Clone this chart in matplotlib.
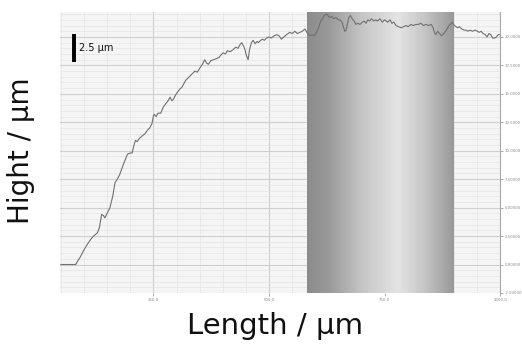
import numpy as np
import matplotlib

matplotlib.use("Agg")

import matplotlib.pyplot as plt
from matplotlib.ticker import MultipleLocator, FixedLocator
from matplotlib.colors import LinearSegmentedColormap

# Profile trace (length in um, height in um).
length = [
    50, 82, 86, 91, 100, 109, 118, 129, 133, 138, 142, 145, 150, 156, 162, 167,
    172, 177, 185, 194, 200, 204, 208, 211, 215, 220, 226, 232, 237, 242, 247,
    250, 252, 256, 260, 266, 271, 276, 282, 286, 290, 293, 298, 303, 307, 312,
    316, 320, 325, 330, 335, 340, 345, 351, 356, 361, 365, 369, 374, 380, 387,
    392, 396, 401, 406, 410, 416, 423, 428, 433, 437, 441, 445, 448, 451, 455,
    458, 462, 466, 470, 474, 477, 482, 486, 490, 495, 500, 505, 511, 517, 522,
    527, 532, 538, 545, 550, 556, 561, 567, 572, 578, 582, 586, 589, 594, 598,
    603, 608, 612, 616, 620, 625, 629, 632, 636, 640, 645, 650, 654, 658, 661,
    664, 667, 670, 673, 676, 680, 684, 688, 692, 697, 702, 706, 710, 714, 718,
    722, 727, 731, 735, 740, 745, 750, 754, 757, 762, 766, 770, 775, 780, 786,
    791, 796, 801, 807, 812, 818, 823, 829, 834, 840, 845, 851, 855, 858, 861,
    865, 869, 873, 876, 880, 884, 888, 892, 897, 901, 905, 908, 912, 917, 922,
    927, 930, 935, 940, 946, 951, 955, 959, 963, 968, 972, 976, 980, 984, 988,
    992, 996, 1000,
]
height = [
    0.0, 0.0, 0.3, 0.6, 1.3, 1.9, 2.4, 2.8, 3.2, 4.4, 4.3, 4.1, 4.5, 5.0, 6.0, 7.2,
    7.5, 7.9, 8.8, 9.7, 9.8, 9.8, 10.5, 10.9, 10.8, 11.1, 11.3, 11.5, 11.8, 12.0, 12.4,
    13.05, 13.2, 13.0, 13.3, 13.3, 13.8, 14.1, 14.4, 14.7, 14.4, 14.5, 14.9, 15.2, 15.4, 15.6,
    15.9, 16.2, 16.4, 16.6, 16.8, 17.0, 16.9, 17.3, 17.6, 18.0, 17.7, 17.6, 17.9, 18.0, 18.1,
    18.2, 18.4, 18.6, 18.5, 18.8, 18.7, 18.9, 19.1, 19.0, 19.3, 19.5, 19.2, 18.9, 18.4, 18.0,
    18.9, 19.5, 19.7, 19.4, 19.6, 19.5, 19.7, 19.8, 19.7, 19.9, 20.0, 19.9, 20.1, 20.2, 20.1,
    19.8, 20.0, 20.2, 20.4, 20.3, 20.5, 20.3, 20.4, 20.5, 20.7, 20.4, 20.2, 20.1, 20.2, 20.1,
    20.4, 20.9, 21.4, 21.6, 21.9, 22.0, 21.8, 21.7, 21.8, 21.6, 21.7, 21.5, 21.5, 21.3, 20.9,
    20.5, 20.6, 21.2, 21.7, 21.9, 21.6, 21.4, 21.1, 21.2, 21.1, 21.3, 21.4, 21.2, 21.5, 21.4,
    21.6, 21.4, 21.5, 21.4, 21.6, 21.3, 21.5, 21.4, 21.3, 21.5, 21.2, 21.3, 21.0, 20.9, 20.8,
    20.9, 21.0, 20.9, 21.1, 21.0, 21.1, 21.1, 21.2, 21.0, 21.1, 21.0, 21.1, 20.8, 20.4, 20.2,
    20.5, 20.3, 20.1, 20.2, 20.4, 20.6, 20.9, 21.1, 21.3, 21.0, 20.9, 20.8, 20.9, 20.7, 20.6,
    20.6, 20.5, 20.6, 20.5, 20.6, 20.5, 20.4, 20.5, 20.3, 20.2, 20.0, 20.3, 20.2, 19.9, 19.9,
    20.0, 20.2, 20.2,
]

band = (582, 900)          # shaded region along the length axis
x_range = (48, 1000)
y_range = (-2.5, 22.2)
x_ticks = [250, 500, 750, 1000]
x_ticklabels = ["250.0", "500.0", "750.0", "1000.0"]
y_ticks = [-2.5, 0, 2.5, 5, 7.5, 10, 12.5, 15, 17.5, 20]
y_ticklabels = ["-2.50000", "0.00000", "2.50000", "5.00000", "7.50000",
                "10.0000", "12.5000", "15.0000", "17.5000", "20.0000"]
scale_bar = 2.5

fig = plt.figure(figsize=(5.22, 3.5), dpi=100)
ax = fig.add_axes([0.115, 0.163, 0.843, 0.803])
ax.set_facecolor("#f5f5f5")
ax.set_xlim(*x_range)
ax.set_ylim(*y_range)

# grid
ax.xaxis.set_major_locator(FixedLocator(x_ticks))
ax.xaxis.set_minor_locator(MultipleLocator(50))
ax.yaxis.set_major_locator(FixedLocator(y_ticks))
ax.yaxis.set_minor_locator(MultipleLocator(0.5))
ax.grid(which="major", color="#cfcfcf", lw=0.8)
ax.grid(which="minor", color="#e4e4e4", lw=0.5)
ax.set_axisbelow(True)

# cylindrical grey shading
cmap = LinearSegmentedColormap.from_list(
    "cyl",
    [(0.0, "#8c8c8c"), (0.15, "#9a9a9a"), (0.38, "#c6c6c6"),
     (0.62, "#e4e4e4"), (0.8, "#c6c6c6"), (1.0, "#989898")],
)
grad = np.linspace(0, 1, 256).reshape(1, -1)
ax.imshow(grad, cmap=cmap, aspect="auto", zorder=1.5,
          extent=[band[0], band[1], y_range[0], y_range[1]])
ax.set_xlim(*x_range)
ax.set_ylim(*y_range)

ax.plot(length, height, color="#707070", lw=0.8, zorder=3)

# scale bar
ax.plot([78, 78], [17.8, 17.8 + scale_bar], color="black", lw=2.8,
        solid_capstyle="butt", zorder=4)
ax.text(90, 17.8 + scale_bar / 2, "2.5 \u03bcm", fontsize=7, va="center",
        ha="left", color="#111111", zorder=4)

ax.yaxis.tick_right()
ax.set_xticklabels(x_ticklabels)
ax.set_yticklabels(y_ticklabels)
ax.tick_params(axis="both", which="major", labelsize=2.8, colors="#888888",
               length=2, width=0.5, pad=1.5)
ax.tick_params(axis="both", which="minor", length=0)
for s in ["left", "top", "bottom"]:
    ax.spines[s].set_visible(False)
ax.spines["right"].set_color("#aaaaaa")
ax.spines["right"].set_linewidth(0.8)

fig.text(0.04, 0.57, "Hight / \u03bcm", rotation=90, fontsize=20,
         ha="center", va="center", color="#111111")
fig.text(0.527, 0.07, "Length / \u03bcm", fontsize=21,
         ha="center", va="center", color="#111111")

fig.savefig("out.png", dpi=100)
